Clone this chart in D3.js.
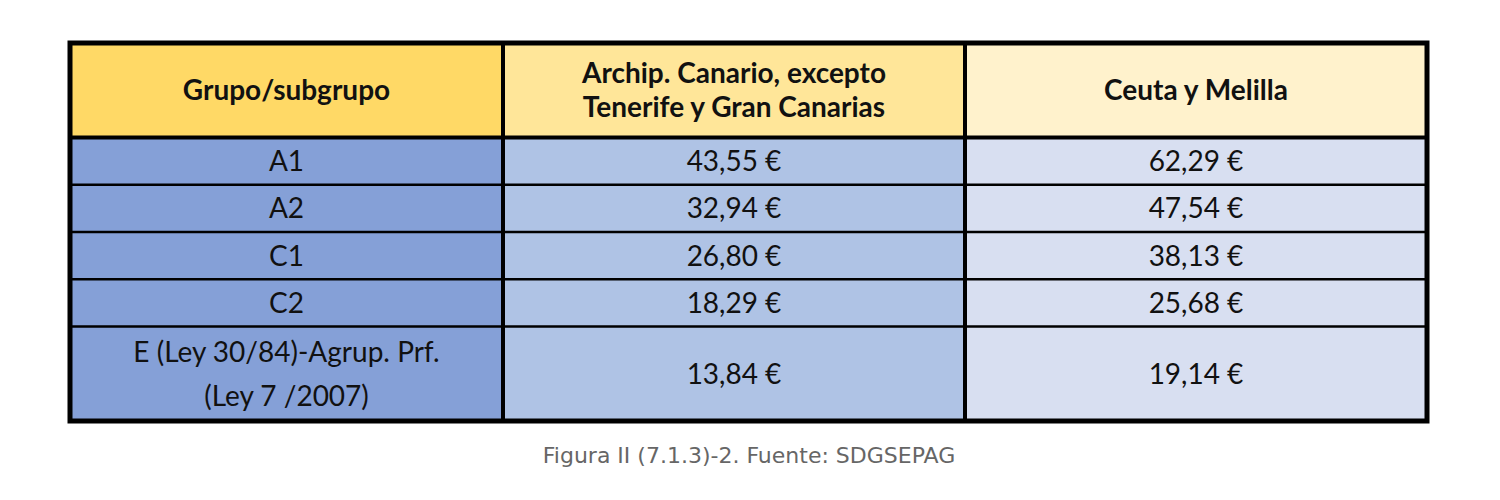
<!DOCTYPE html>
<html>
<head>
<meta charset="utf-8">
<script src="https://cdn.jsdelivr.net/npm/d3@7"></script>
<style>
  body { margin: 0; background: #fff; }
</style>
</head>
<body>
<div id="wrapper"></div>
<script>
// Table data
const headers = [
  ["Grupo/subgrupo"],
  ["Archip. Canario, excepto", "Tenerife y Gran Canarias"],
  ["Ceuta y Melilla"]
]
const grupos = ["A1", "A2", "C1", "C2", "E (Ley 30/84)-Agrup. Prf.|(Ley 7 /2007)"]
const canarias = ["43,55 €", "32,94 €", "26,80 €", "18,29 €", "13,84 €"]
const ceutaMelilla = ["62,29 €", "47,54 €", "38,13 €", "25,68 €", "19,14 €"]
const caption = "Figura II (7.1.3)-2. Fuente: SDGSEPAG"

const width = 1500
const height = 500
const font = "Lato, 'Open Sans', sans-serif"

const svg = d3.select("#wrapper").append("svg")
  .attr("width", width)
  .attr("height", height)

// columns: cumulative edges
const colEdges = [70, 503, 965, 1427]
// rows in units: header 2, four rows 1, last row 2
const rowUnits = [0, 2, 3, 4, 5, 6, 8]
const yScale = d3.scaleLinear().domain([0, 8]).range([43, 421])

const headFill = ["#FFD966", "#FFE699", "#FFF2CC"]
const bodyFill = ["#85A0D7", "#AFC3E5", "#D8DFF1"]

// header cells
headers.forEach((lines, c) => {
  const x0 = colEdges[c], x1 = colEdges[c + 1]
  const y0 = yScale(0), y1 = yScale(2)
  svg.append("rect")
    .attr("x", x0).attr("y", y0).attr("width", x1 - x0).attr("height", y1 - y0)
    .attr("fill", headFill[c])
  const cy = (y0 + y1) / 2
  lines.forEach((line, i) => {
    const t = svg.append("text")
      .attr("x", (x0 + x1) / 2)
      .attr("y", cy + (i - (lines.length - 1) / 2) * 34 + 10)
      .attr("text-anchor", "middle")
      .attr("font-family", font)
      .attr("font-weight", "bold")
      .attr("font-size", 28)
      .attr("fill", "#111")
    if (c === 2) {
      t.append("tspan").attr("class", "ceuta").text("Ceuta")
      t.append("tspan").text(" y Melilla")
    } else {
      t.text(line)
    }
  })
})

// yellow highlight behind "Ceuta"
const ceutaNode = svg.select(".ceuta").node()
if (ceutaNode) {
  const bb = ceutaNode.getBBox()
  svg.insert("rect", "text")
    .attr("x", bb.x - 2).attr("y", bb.y + 1).attr("width", bb.width + 3).attr("height", bb.height + 2)
    .attr("fill", "#F8EC2C")
}

// body cells
const columns = [grupos, canarias, ceutaMelilla]
columns.forEach((col, c) => {
  col.forEach((val, r) => {
    const x0 = colEdges[c], x1 = colEdges[c + 1]
    const y0 = yScale(rowUnits[r + 1]), y1 = yScale(rowUnits[r + 2])
    svg.append("rect")
      .attr("x", x0).attr("y", y0).attr("width", x1 - x0).attr("height", y1 - y0)
      .attr("fill", bodyFill[c])
    const lines = val.split("|")
    const cy = (y0 + y1) / 2
    lines.forEach((line, i) => {
      svg.append("text")
        .attr("x", (x0 + x1) / 2)
        .attr("y", cy + (i - (lines.length - 1) / 2) * 44 + 10)
        .attr("text-anchor", "middle")
        .attr("font-family", font)
        .attr("font-size", 28)
        .attr("fill", "#111")
        .text(line)
    })
  })
})

// grid lines
rowUnits.slice(1, -1).forEach((u, i) => {
  svg.append("line")
    .attr("x1", colEdges[0]).attr("x2", colEdges[3])
    .attr("y1", yScale(u)).attr("y2", yScale(u))
    .attr("stroke", "#000").attr("stroke-width", i === 0 ? 4 : 2.5)
})
colEdges.slice(1, -1).forEach(x => {
  svg.append("line")
    .attr("x1", x).attr("x2", x)
    .attr("y1", yScale(0)).attr("y2", yScale(8))
    .attr("stroke", "#000").attr("stroke-width", 4)
})
svg.append("rect")
  .attr("x", colEdges[0]).attr("y", yScale(0))
  .attr("width", colEdges[3] - colEdges[0]).attr("height", yScale(8) - yScale(0))
  .attr("fill", "none").attr("stroke", "#000").attr("stroke-width", 5)

// caption
svg.append("text")
  .attr("x", 749).attr("y", 463)
  .attr("text-anchor", "middle")
  .attr("font-family", "'DejaVu Sans', sans-serif")
  .attr("font-size", 22)
  .attr("fill", "#666")
  .text(caption)
</script>
</body>
</html>
